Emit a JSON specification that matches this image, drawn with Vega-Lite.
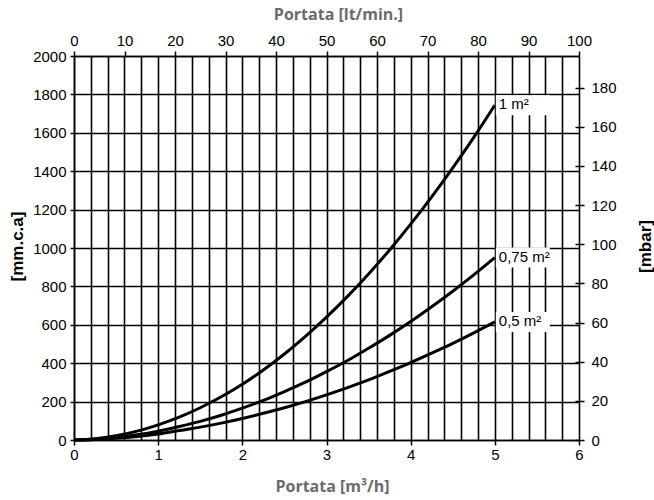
{
  "$schema": "https://vega.github.io/schema/vega-lite/v6.json",
  "width": 505,
  "height": 384,
  "autosize": {"type": "none"},
  "padding": {"left": 74, "top": 56, "right": 75, "bottom": 60},
  "background": "#ffffff",
  "config": {
    "view": {"stroke": null},
    "axis": {
      "labelFont": "Liberation Sans",
      "labelFontSize": 15,
      "labelColor": "#000000",
      "tickColor": "#000000",
      "domainColor": "#000000",
      "tickWidth": 1.5,
      "domainWidth": 1.5,
      "gridColor": "#000000",
      "gridWidth": 1.6,
      "gridOpacity": 1,
      "labelOverlap": false,
      "labelFlush": false
    }
  },
  "datasets": {
    "curves": [
      {"serie": "1 m²", "Q": 0, "mm": 0},
      {"serie": "1 m²", "Q": 0.25, "mm": 6},
      {"serie": "1 m²", "Q": 0.5, "mm": 22},
      {"serie": "1 m²", "Q": 0.75, "mm": 46},
      {"serie": "1 m²", "Q": 1, "mm": 79},
      {"serie": "1 m²", "Q": 1.25, "mm": 119},
      {"serie": "1 m²", "Q": 1.5, "mm": 168},
      {"serie": "1 m²", "Q": 1.75, "mm": 225},
      {"serie": "1 m²", "Q": 2, "mm": 290},
      {"serie": "1 m²", "Q": 2.25, "mm": 365},
      {"serie": "1 m²", "Q": 2.5, "mm": 448},
      {"serie": "1 m²", "Q": 2.75, "mm": 540},
      {"serie": "1 m²", "Q": 3, "mm": 640},
      {"serie": "1 m²", "Q": 3.25, "mm": 748},
      {"serie": "1 m²", "Q": 3.5, "mm": 865},
      {"serie": "1 m²", "Q": 3.75, "mm": 990},
      {"serie": "1 m²", "Q": 4, "mm": 1124},
      {"serie": "1 m²", "Q": 4.25, "mm": 1266},
      {"serie": "1 m²", "Q": 4.5, "mm": 1417},
      {"serie": "1 m²", "Q": 4.75, "mm": 1576},
      {"serie": "1 m²", "Q": 5, "mm": 1744},
      {"serie": "0,75 m²", "Q": 0, "mm": 0},
      {"serie": "0,75 m²", "Q": 0.25, "mm": 4},
      {"serie": "0,75 m²", "Q": 0.5, "mm": 13},
      {"serie": "0,75 m²", "Q": 0.75, "mm": 27},
      {"serie": "0,75 m²", "Q": 1, "mm": 46},
      {"serie": "0,75 m²", "Q": 1.25, "mm": 70},
      {"serie": "0,75 m²", "Q": 1.5, "mm": 97},
      {"serie": "0,75 m²", "Q": 1.75, "mm": 129},
      {"serie": "0,75 m²", "Q": 2, "mm": 166},
      {"serie": "0,75 m²", "Q": 2.25, "mm": 206},
      {"serie": "0,75 m²", "Q": 2.5, "mm": 252},
      {"serie": "0,75 m²", "Q": 2.75, "mm": 301},
      {"serie": "0,75 m²", "Q": 3, "mm": 356},
      {"serie": "0,75 m²", "Q": 3.25, "mm": 414},
      {"serie": "0,75 m²", "Q": 3.5, "mm": 478},
      {"serie": "0,75 m²", "Q": 3.75, "mm": 545},
      {"serie": "0,75 m²", "Q": 4, "mm": 617},
      {"serie": "0,75 m²", "Q": 4.25, "mm": 694},
      {"serie": "0,75 m²", "Q": 4.5, "mm": 775},
      {"serie": "0,75 m²", "Q": 4.75, "mm": 860},
      {"serie": "0,75 m²", "Q": 5, "mm": 950},
      {"serie": "0,5 m²", "Q": 0, "mm": 0},
      {"serie": "0,5 m²", "Q": 0.25, "mm": 3},
      {"serie": "0,5 m²", "Q": 0.5, "mm": 9},
      {"serie": "0,5 m²", "Q": 0.75, "mm": 18},
      {"serie": "0,5 m²", "Q": 1, "mm": 31},
      {"serie": "0,5 m²", "Q": 1.25, "mm": 49},
      {"serie": "0,5 m²", "Q": 1.5, "mm": 67},
      {"serie": "0,5 m²", "Q": 1.75, "mm": 88},
      {"serie": "0,5 m²", "Q": 2, "mm": 112},
      {"serie": "0,5 m²", "Q": 2.25, "mm": 139},
      {"serie": "0,5 m²", "Q": 2.5, "mm": 168},
      {"serie": "0,5 m²", "Q": 2.75, "mm": 200},
      {"serie": "0,5 m²", "Q": 3, "mm": 235},
      {"serie": "0,5 m²", "Q": 3.25, "mm": 273},
      {"serie": "0,5 m²", "Q": 3.5, "mm": 313},
      {"serie": "0,5 m²", "Q": 3.75, "mm": 357},
      {"serie": "0,5 m²", "Q": 4, "mm": 403},
      {"serie": "0,5 m²", "Q": 4.25, "mm": 452},
      {"serie": "0,5 m²", "Q": 4.5, "mm": 503},
      {"serie": "0,5 m²", "Q": 4.75, "mm": 558},
      {"serie": "0,5 m²", "Q": 5, "mm": 615}
    ],
    "labels": [
      {"label": "1 m²", "Q": 5, "mm": 1744},
      {"label": "0,75 m²", "Q": 5, "mm": 950},
      {"label": "0,5 m²", "Q": 5, "mm": 615}
    ]
  },
  "layer": [
    {
      "data": {"name": "curves"},
      "mark": {"type": "line", "interpolate": "monotone", "color": "#000000", "strokeWidth": 3},
      "encoding": {
        "x": {
          "field": "Q",
          "type": "quantitative",
          "scale": {"domain": [0, 6], "nice": false},
          "axis": {
            "orient": "bottom",
            "values": [0, 0.2, 0.4, 0.6, 0.8, 1, 1.2, 1.4, 1.6, 1.8, 2, 2.2, 2.4, 2.6, 2.8, 3, 3.2, 3.4, 3.6, 3.8, 4, 4.2, 4.4, 4.6, 4.8, 5, 5.2, 5.4, 5.6, 5.8, 6],
            "grid": true,
            "tickSize": 5,
            "labelPadding": 2,
            "labelExpr": "abs(datum.value - round(datum.value)) < 0.01 ? format(datum.value, 'd') : ''",
            "tickColor": {"condition": {"test": "abs(datum.value - round(datum.value)) < 0.01", "value": "#000000"}, "value": "transparent"},
            "title": "Portata [m³/h]",
            "titleFont": "Open Sans",
            "titleFontSize": 16,
            "titleFontWeight": "bold",
            "titleColor": "#6b6b6b",
            "titleX": 258,
            "titleY": 46,
            "titleBaseline": "middle",
            "titleAlign": "center"
          }
        },
        "y": {
          "field": "mm",
          "type": "quantitative",
          "scale": {"domain": [0, 2000], "nice": false},
          "axis": {
            "orient": "left",
            "values": [0, 200, 400, 600, 800, 1000, 1200, 1400, 1600, 1800, 2000],
            "format": "d",
            "grid": true,
            "tickSize": 4,
            "labelPadding": 4,
            "title": "[mm.c.a]",
            "titleFont": "Liberation Sans",
            "titleFontSize": 17,
            "titleFontWeight": "bold",
            "titleColor": "#000000",
            "titleAngle": 270,
            "titleX": -56.5,
            "titleY": 190,
            "titleBaseline": "middle",
            "titleAlign": "center"
          }
        },
        "detail": {"field": "serie", "type": "nominal"}
      }
    },
    {
      "data": {"name": "labels"},
      "mark": {"type": "rect", "color": "#ffffff", "opacity": 1, "xOffset": 1, "x2Offset": 55, "yOffset": -10, "y2Offset": 10},
      "encoding": {
        "x": {"field": "Q", "type": "quantitative", "scale": {"domain": [0, 6], "nice": false}, "axis": null},
        "x2": {"field": "Q"},
        "y": {"field": "mm", "type": "quantitative", "scale": {"domain": [0, 2000], "nice": false}, "axis": null},
        "y2": {"field": "mm"}
      }
    },
    {
      "data": {"name": "labels"},
      "mark": {"type": "text", "align": "left", "baseline": "middle", "dx": 4, "dy": -1, "font": "Liberation Sans", "fontSize": 15, "color": "#000000"},
      "encoding": {
        "x": {"field": "Q", "type": "quantitative", "scale": {"domain": [0, 6], "nice": false}, "axis": null},
        "y": {"field": "mm", "type": "quantitative", "scale": {"domain": [0, 2000], "nice": false}, "axis": null},
        "text": {"field": "label"}
      }
    },
    {
      "mark": {"type": "point", "opacity": 0},
      "encoding": {
        "x": {
          "datum": 0,
          "type": "quantitative",
          "scale": {"domain": [0, 100], "nice": false},
          "axis": {
            "orient": "top",
            "values": [0, 10, 20, 30, 40, 50, 60, 70, 80, 90, 100],
            "grid": false,
            "tickSize": 5,
            "labelPadding": 3,
            "title": "Portata [lt/min.]",
            "titleFont": "Open Sans",
            "titleFontSize": 16,
            "titleFontWeight": "bold",
            "titleColor": "#6b6b6b",
            "titleX": 264,
            "titleY": -42,
            "titleBaseline": "middle",
            "titleAlign": "center"
          }
        },
        "y": {
          "datum": 0,
          "type": "quantitative",
          "scale": {"domain": [0, 196.1], "nice": false},
          "axis": {
            "orient": "right",
            "values": [0, 20, 40, 60, 80, 100, 120, 140, 160, 180],
            "grid": false,
            "domain": false,
            "offset": -4,
            "tickSize": 9,
            "labelPadding": 7,
            "title": "[mbar]",
            "titleFont": "Liberation Sans",
            "titleFontSize": 17,
            "titleFontWeight": "bold",
            "titleColor": "#000000",
            "titleAngle": 270,
            "titleX": 70,
            "titleY": 190,
            "titleBaseline": "middle",
            "titleAlign": "center"
          }
        }
      }
    }
  ],
  "resolve": {"scale": {"x": "independent", "y": "independent"}}
}
